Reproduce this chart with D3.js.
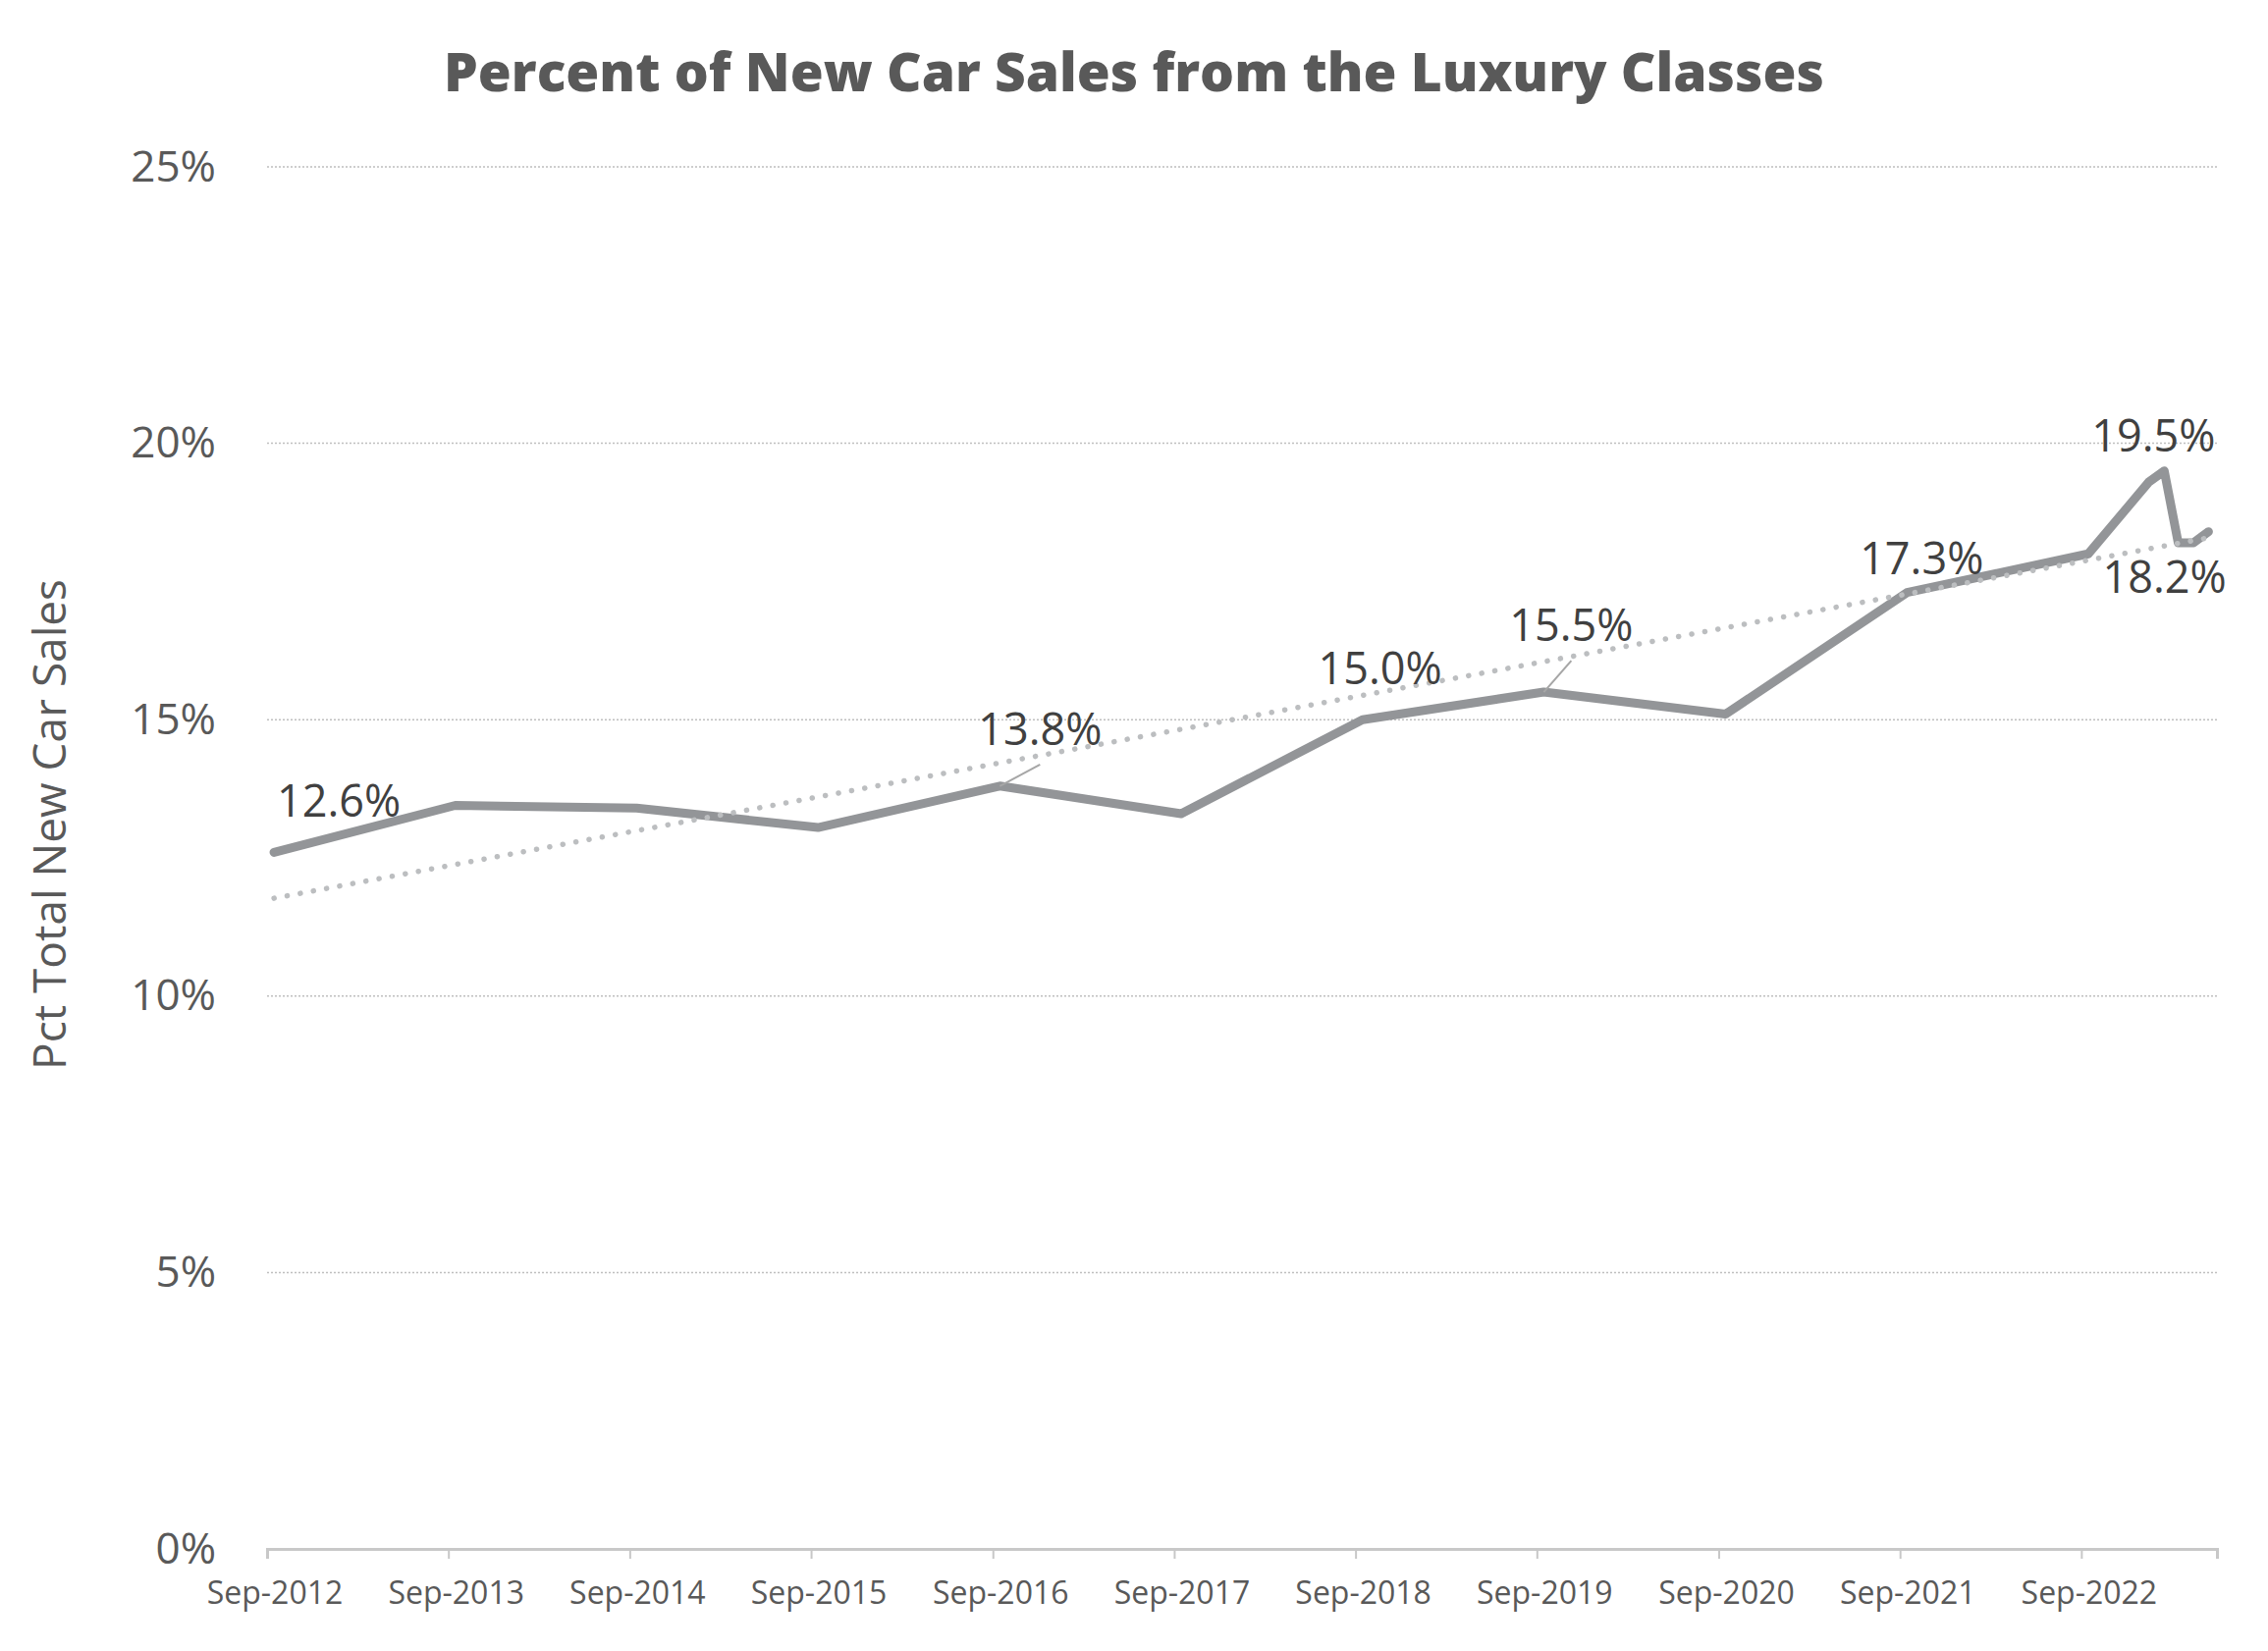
<!DOCTYPE html>
<html>
<head>
<meta charset="utf-8">
<script src="https://cdn.jsdelivr.net/npm/d3@7"></script>
<style>
    body { margin: 0; background: #fff; }
    text { font-family: "Open Sans", "Noto Sans", sans-serif; }
</style>
</head>
<body>
<script>
// Data (points sit mid-month)
const dates = ["2012-09-15", "2013-09-15", "2014-09-15", "2015-09-15", "2016-09-15",
    "2017-09-15", "2018-09-15", "2019-09-15", "2020-09-15", "2021-09-15", "2022-09-15",
    "2023-01-15", "2023-02-15", "2023-03-15", "2023-04-15", "2023-05-15"];
const luxuryPct = [12.6, 13.45, 13.4, 13.05, 13.8, 13.3, 15.0, 15.5, 15.1, 17.3, 18.0,
    19.3, 19.5, 18.2, 18.2, 18.4];

// dotted trend line, ends
const trendDates = ["2012-09-15", "2023-05-15"];
const trendValues = [11.77, 18.29];

// which points carry a value label
const labelIdx = [0, 4, 6, 7, 9, 12, 13];

const xTickDates = ["2012-09-01", "2013-09-01", "2014-09-01", "2015-09-01", "2016-09-01",
    "2017-09-01", "2018-09-01", "2019-09-01", "2020-09-01", "2021-09-01", "2022-09-01"];
const xTickLabels = ["Sep-2012", "Sep-2013", "Sep-2014", "Sep-2015", "Sep-2016", "Sep-2017",
    "Sep-2018", "Sep-2019", "Sep-2020", "Sep-2021", "Sep-2022"];
const yTicks = [0, 5, 10, 15, 20, 25];

const width = 2310;
const height = 1682;
const plotLeft = 272;
const plotRight = 2258;
const plotTop = 170;
const plotBottom = 1578;

const parse = d3.timeParse("%Y-%m-%d");
const data = dates.map((d, i) => ({ date: parse(d), value: luxuryPct[i] }));
const trend = trendDates.map((d, i) => ({ date: parse(d), value: trendValues[i] }));

const x = d3.scaleTime()
    .domain([parse("2012-09-01"), parse("2023-06-01")])
    .range([plotLeft, plotRight]);

const y = d3.scaleLinear()
    .domain([0, 25])
    .range([plotBottom, plotTop]);

const svg = d3.select("body").append("svg")
    .attr("width", width)
    .attr("height", height);

// title
svg.append("text")
    .attr("x", width / 2)
    .attr("y", 93)
    .attr("text-anchor", "middle")
    .attr("font-size", 55)
    .attr("font-weight", 800)
    .attr("fill", "#595959")
    .text("Percent of New Car Sales from the Luxury Classes");

// gridlines (dotted)
svg.append("g")
    .selectAll("line")
    .data(yTicks.filter(t => t > 0))
    .enter()
    .append("line")
    .attr("x1", plotLeft)
    .attr("x2", plotRight)
    .attr("y1", d => y(d))
    .attr("y2", d => y(d))
    .attr("stroke", "#bfbfbf")
    .attr("stroke-width", 1.5)
    .attr("stroke-dasharray", "2,2");

// y axis labels
const yAxis = svg.append("g")
    .attr("transform", `translate(${plotLeft},0)`)
    .call(d3.axisLeft(y).tickValues(yTicks).tickFormat(d => d + "%").tickSize(0).tickPadding(52));
yAxis.select(".domain").remove();
yAxis.selectAll("text")
    .attr("font-size", 44)
    .attr("font-family", "'Open Sans', sans-serif")
    .attr("fill", "#595959");

svg.append("text")
    .attr("transform", "translate(67,840) rotate(-90)")
    .attr("text-anchor", "middle")
    .attr("font-size", 46)
    .attr("fill", "#595959")
    .text("Pct Total New Car Sales");

// x axis
const xAxis = svg.append("g")
    .attr("transform", `translate(0,${plotBottom})`)
    .call(d3.axisBottom(x)
        .tickValues(xTickDates.map(parse))
        .tickFormat((d, i) => xTickLabels[i])
        .tickSizeInner(10)
        .tickSizeOuter(10)
        .tickPadding(23));
xAxis.select(".domain")
    .attr("stroke", "#c8c8c8")
    .attr("stroke-width", 3);
xAxis.selectAll(".tick line")
    .attr("stroke", "#c8c8c8")
    .attr("stroke-width", 2);
xAxis.selectAll(".tick text")
    .attr("font-size", 32)
    .attr("font-family", "'Open Sans', sans-serif")
    .attr("fill", "#595959")
    .attr("dx", 7.5);

// main line
svg.append("path")
    .datum(data)
    .attr("fill", "none")
    .attr("stroke", "#939598")
    .attr("stroke-width", 9)
    .attr("stroke-linejoin", "round")
    .attr("stroke-linecap", "round")
    .attr("d", d3.line()
        .x(d => x(d.date))
        .y(d => y(d.value)));

// trend line
svg.append("path")
    .datum(trend)
    .attr("fill", "none")
    .attr("stroke", "#bcbec0")
    .attr("stroke-width", 5.5)
    .attr("stroke-linecap", "round")
    .attr("stroke-dasharray", "0.1,13.5")
    .attr("d", d3.line()
        .x(d => x(d.date))
        .y(d => y(d.value)));

// value labels: offsets from the point, and optional leader line
const labelLayout = [
    { dx: 66, dy: -36 },
    { dx: 41, dy: -42, leader: true },
    { dx: 18, dy: -36 },
    { dx: 28, dy: -52, leader: true },
    { dx: 15, dy: -19 },
    { dx: -11, dy: -20 },
    { dx: -14, dy: 51 }
];

const labels = svg.append("g");
labelIdx.forEach((idx, i) => {
    const d = data[idx];
    const l = labelLayout[i];
    const px = x(d.date), py = y(d.value);
    if (l.leader) {
        labels.append("line")
            .attr("x1", px)
            .attr("y1", py)
            .attr("x2", px + l.dx)
            .attr("y2", py + l.dy + 20)
            .attr("stroke", "#a6a6a6")
            .attr("stroke-width", 2);
    }
    labels.append("text")
        .attr("x", px + l.dx)
        .attr("y", py + l.dy)
        .attr("text-anchor", "middle")
        .attr("font-size", 45)
        .attr("fill", "#404040")
        .text(d3.format(".1f")(d.value) + "%");
});
</script>
</body>
</html>
